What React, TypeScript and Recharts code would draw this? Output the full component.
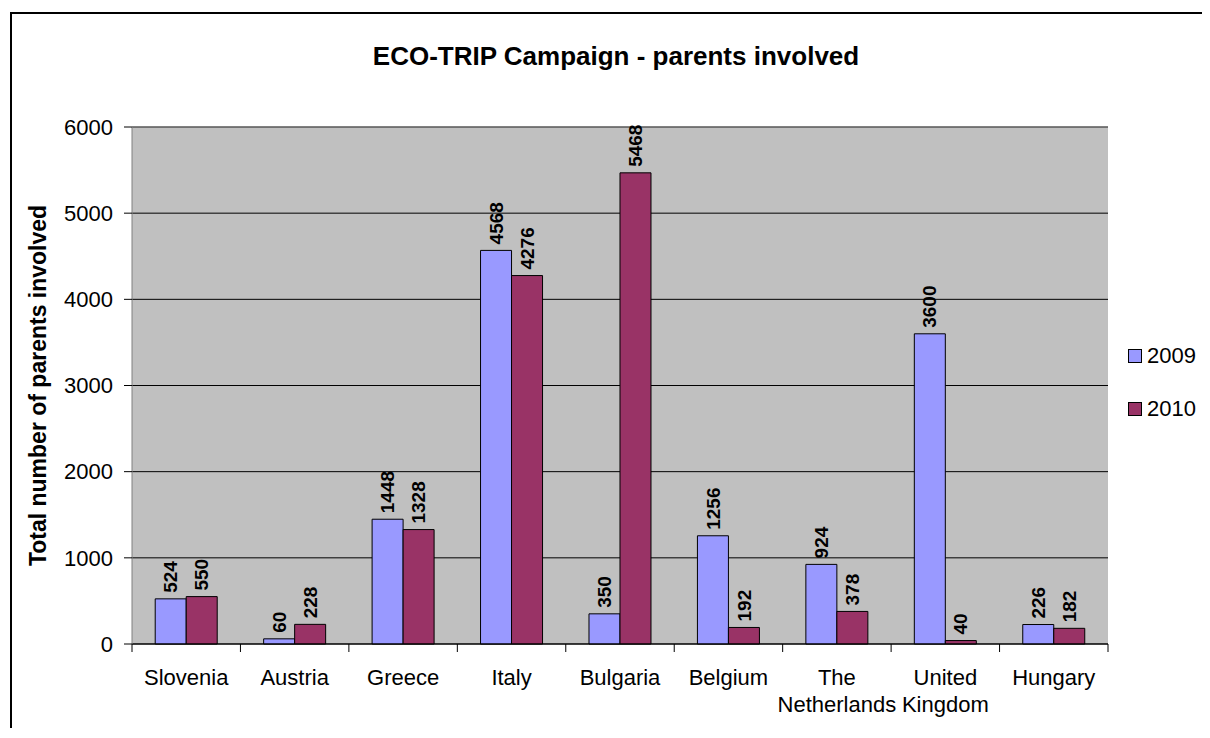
import React from 'react'
import { BarChart, Bar, XAxis, YAxis, CartesianGrid, LabelList, ReferenceLine } from 'recharts'

const countries = ['Slovenia', 'Austria', 'Greece', 'Italy', 'Bulgaria', 'Belgium', 'The Netherlands', 'United Kingdom', 'Hungary']
const parents2009 = [524, 60, 1448, 4568, 350, 1256, 924, 3600, 226]
const parents2010 = [550, 228, 1328, 4276, 5468, 192, 378, 40, 182]
const yTicks = [0, 1000, 2000, 3000, 4000, 5000, 6000]
const seriesNames = ['2009', '2010']
const seriesColors = ['#9999FF', '#993366']

const W = 1202
const H = 730
const PLOT_W = 976

const data = countries.map((country, i) => ({
	country,
	y2009: parents2009[i],
	y2010: parents2010[i],
}))

// category labels, wrapped on spaces, plus tick marks on the band edges
const CountryTick = (props: any) => {
	const { x, y, payload, index, width, visibleTicksCount } = props
	const band = (typeof width === 'number' && width > 0 ? width : PLOT_W) / (visibleTicksCount || countries.length)
	const lines = String(payload.value).split(' ')
	const left = x - band / 2
	return (
		<g>
			<line x1={left} y1={y} x2={left} y2={y + 8} stroke='#000' />
			{index === countries.length - 1 && (
				<line x1={x + band / 2} y1={y} x2={x + band / 2} y2={y + 8} stroke='#000' />
			)}
			{lines.map((word, i) => (
				<text key={i} x={x} y={y + 41 + i * 27} textAnchor='middle' fontSize={22} fill='#000'>
					{word}
				</text>
			))}
		</g>
	)
}

const BarValue = (props: any) => {
	const { x, y, width, value } = props
	const cx = x + width / 2
	const ty = y - 6
	return (
		<text
			x={cx}
			y={ty}
			dy='0.35em'
			transform={`rotate(-90 ${cx} ${ty})`}
			textAnchor='start'
			fontSize={19}
			fontWeight='bold'
			fill='#000'
		>
			{value}
		</text>
	)
}

const YTitle = (props: any) => {
	const vb = props.viewBox || { y: 119, height: 517 }
	const cy = vb.y + vb.height / 2
	const cx = 30
	return (
		<text
			x={cx}
			y={cy}
			dy='0.35em'
			transform={`rotate(-90 ${cx} ${cy})`}
			textAnchor='middle'
			fontSize={23}
			fontWeight='bold'
			fill='#000'
		>
			Total number of parents involved
		</text>
	)
}

export default function App() {
	return (
		<div
			style={{
				position: 'relative',
				width: W,
				height: H,
				marginBottom: -10,
				overflow: 'hidden',
				fontFamily: '"Liberation Sans", Arial, sans-serif',
				background: '#fff',
			}}
		>
			{/* chart frame: only top and left edges fall inside the picture */}
			<div
				style={{
					position: 'absolute',
					left: 2,
					top: 4,
					right: -20,
					bottom: -20,
					borderTop: '2px solid #000',
					borderLeft: '2px solid #000',
				}}
			/>
			<div
				style={{
					position: 'absolute',
					left: 308,
					top: 35,
					width: 600,
					textAlign: 'center',
					fontSize: 26,
					lineHeight: '26px',
					fontWeight: 'bold',
					whiteSpace: 'nowrap',
				}}
			>
				ECO-TRIP Campaign - parents involved
			</div>

			<div style={{ position: 'absolute', left: 0, top: 0 }}>
				<BarChart
					width={W}
					height={H}
					data={data}
					margin={{ top: 119, right: 102, bottom: 14, left: 54 }}
					barCategoryGap='21.4%'
					barGap={0}
				>
					<CartesianGrid vertical={false} stroke='#000' fill='#C0C0C0' />
					<XAxis
						dataKey='country'
						type='category'
						interval={0}
						height={80}
						tickLine={false}
						tickSize={0}
						tickMargin={0}
						axisLine={{ stroke: '#000' }}
						tick={<CountryTick />}
					/>
					<YAxis
						type='number'
						domain={[0, 6000]}
						ticks={yTicks}
						interval={0}
						width={70}
						tickSize={8}
						tickMargin={11}
						axisLine={{ stroke: '#808080' }}
						tickLine={{ stroke: '#000' }}
						tick={{ fontSize: 22, fill: '#000' }}
						label={{ content: <YTitle /> }}
					/>
					<YAxis
						yAxisId='right'
						orientation='right'
						domain={[0, 6000]}
						width={0}
						tick={false}
						tickLine={false}
						axisLine={{ stroke: '#808080' }}
					/>
					<ReferenceLine y={6000} stroke='#808080' />
					<Bar dataKey='y2009' name={seriesNames[0]} fill={seriesColors[0]} stroke='#000' strokeWidth={1} isAnimationActive={false}>
						<LabelList dataKey='y2009' content={<BarValue />} />
					</Bar>
					<Bar dataKey='y2010' name={seriesNames[1]} fill={seriesColors[1]} stroke='#000' strokeWidth={1} isAnimationActive={false}>
						<LabelList dataKey='y2010' content={<BarValue />} />
					</Bar>
				</BarChart>
			</div>

			{/* legend */}
			{seriesNames.map((name, i) => (
				<div
					key={name}
					style={{
						position: 'absolute',
						left: 1120,
						top: 337 + i * 53,
						height: 22,
						display: 'flex',
						alignItems: 'center',
						fontSize: 22,
						lineHeight: '22px',
					}}
				>
					<span
						style={{
							display: 'inline-block',
							width: 12,
							height: 12,
							border: '1px solid #000',
							background: seriesColors[i],
							marginRight: 5,
						}}
					/>
					{name}
				</div>
			))}
		</div>
	)
}
